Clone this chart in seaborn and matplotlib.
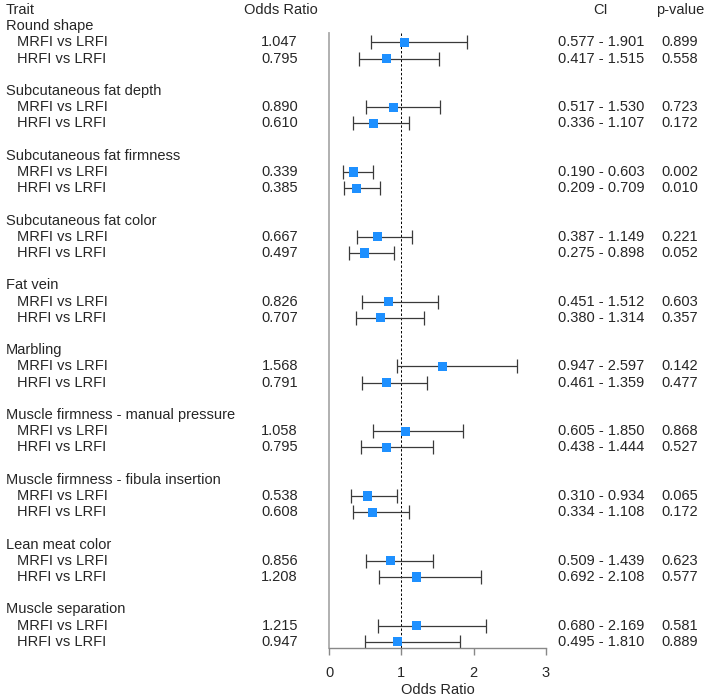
import numpy as np
import pandas as pd
import seaborn as sns
import matplotlib.pyplot as plt
import matplotlib.transforms as mtransforms

# data
traits = ["Round shape", "Subcutaneous fat depth", "Subcutaneous fat firmness",
          "Subcutaneous fat color", "Fat vein", "Marbling",
          "Muscle firmness - manual pressure", "Muscle firmness - fibula insertion",
          "Lean meat color", "Muscle separation"]
comparisons = ["MRFI vs LRFI", "HRFI vs LRFI"]
odds_mrfi = [1.047, 0.890, 0.339, 0.667, 0.826, 1.568, 1.058, 0.538, 0.856, 1.215]
odds_hrfi = [0.795, 0.610, 0.385, 0.497, 0.707, 0.791, 0.795, 0.608, 1.208, 0.947]
low_mrfi = [0.577, 0.517, 0.190, 0.387, 0.451, 0.947, 0.605, 0.310, 0.509, 0.680]
high_mrfi = [1.901, 1.530, 0.603, 1.149, 1.512, 2.597, 1.850, 0.934, 1.439, 2.169]
low_hrfi = [0.417, 0.336, 0.209, 0.275, 0.380, 0.461, 0.438, 0.334, 0.692, 0.495]
high_hrfi = [1.515, 1.107, 0.709, 0.898, 1.314, 1.359, 1.444, 1.108, 2.108, 1.810]
p_mrfi = [0.899, 0.723, 0.002, 0.221, 0.603, 0.142, 0.868, 0.065, 0.623, 0.581]
p_hrfi = [0.558, 0.172, 0.010, 0.052, 0.357, 0.477, 0.527, 0.172, 0.577, 0.889]

# build a long table, one row per comparison, with its row index in the table layout
rows = []
for i, t in enumerate(traits):
    base = 1 + 4 * i
    rows.append(dict(trait=t, comp=comparisons[0], row=base + 1, OR=odds_mrfi[i],
                     lo=low_mrfi[i], hi=high_mrfi[i], p=p_mrfi[i]))
    rows.append(dict(trait=t, comp=comparisons[1], row=base + 2, OR=odds_hrfi[i],
                     lo=low_hrfi[i], hi=high_hrfi[i], p=p_hrfi[i]))
df = pd.DataFrame(rows)

sns.set_style("white")
plt.rcParams['font.family'] = ['Liberation Sans', 'DejaVu Sans']
fs = 10.5

W, H = 709, 699
fig = plt.figure(figsize=(W / 100, H / 100), dpi=100)
row_px = 16.2
y0_px = 10
bottom_px = 648
ax = fig.add_axes([329 / W, 1 - bottom_px / H, (546 - 329) / W, bottom_px / H])
ybot = (bottom_px - y0_px) / row_px
ytop = -y0_px / row_px
ax.set_ylim(ybot, ytop)
ax.set_xlim(0, 3)

ax.errorbar(df["OR"], df["row"], xerr=[df["OR"] - df["lo"], df["hi"] - df["OR"]],
            fmt="none", ecolor="#3a3a3a", elinewidth=0.9, capsize=5, capthick=0.9, zorder=2)
sns.scatterplot(data=df, x="OR", y="row", marker="s", s=42, color="#1e90ff",
                edgecolor="none", ax=ax, zorder=3, legend=False)
ax.vlines(1, 1.4, ybot, colors="black", linestyles=(0, (2.5, 2)), linewidth=0.7, zorder=1)

for side in ["top", "right"]:
    ax.spines[side].set_visible(False)
ax.spines["left"].set_color("#aaaaaa")
ax.spines["left"].set_linewidth(1.3)
ax.spines["left"].set_bounds(1.4, ybot)
ax.spines["bottom"].set_color("#888888")
ax.spines["bottom"].set_linewidth(1.0)
ax.set_yticks([])
ax.set_xticks([0, 1, 2, 3])
ax.tick_params(axis="x", direction="out", length=5, width=1.0, color="#888888",
               labelsize=fs, pad=8, bottom=True)
ax.set_xlabel("Odds Ratio", fontsize=fs, labelpad=2)
ax.set_ylabel("")

# table text: x in figure fraction, y in data rows
tr = mtransforms.blended_transform_factory(fig.transFigure, ax.transData)
def txt(xpx, row, s, ha="left"):
    ax.text(xpx / W, row, s, transform=tr, ha=ha, va="center", fontsize=fs, clip_on=False)

txt(6, 0, "Trait")
txt(281, 0, "Odds Ratio", ha="center")
txt(601, 0, "CI", ha="center")
txt(680, 0, "p-value", ha="center")
for i, t in enumerate(traits):
    txt(6, 1 + 4 * i, t)
for _, r in df.iterrows():
    txt(17, r["row"], r["comp"])
    txt(298, r["row"], f"{r['OR']:.3f}", ha="right")
    txt(601, r["row"], f"{r['lo']:.3f} - {r['hi']:.3f}", ha="center")
    txt(680, r["row"], f"{r['p']:.3f}", ha="center")

plt.savefig("out.png", dpi=100)
